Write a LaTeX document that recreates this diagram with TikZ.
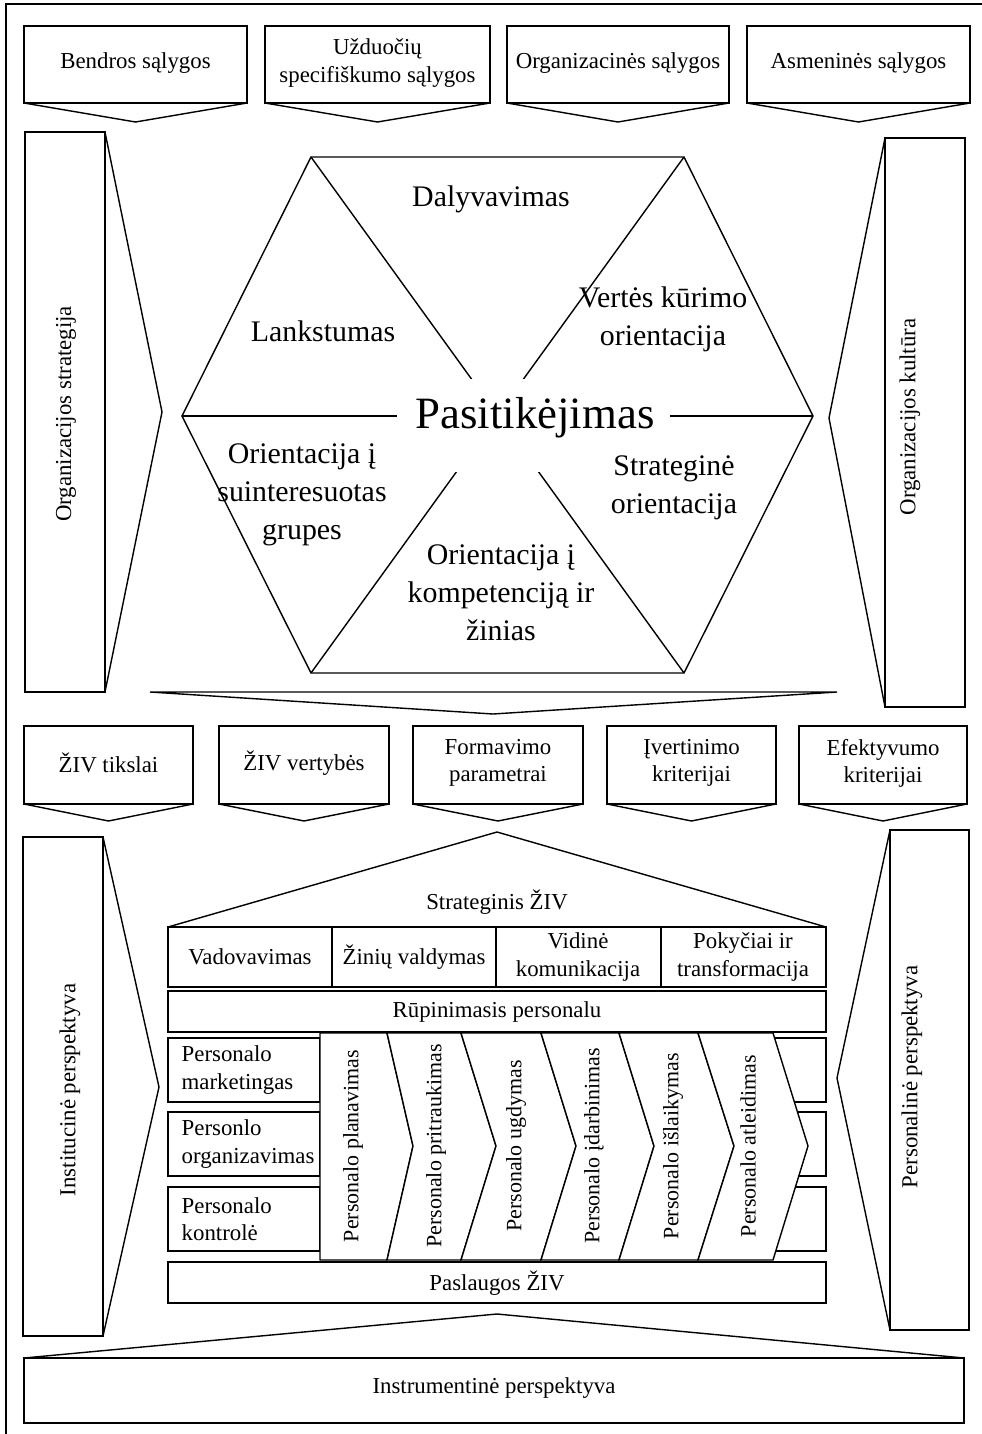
\documentclass[tikz,border=0pt]{standalone}
\usepackage{fontspec}
\setmainfont{Liberation Serif}
\usepackage{tikz}

\begin{document}
\begin{tikzpicture}[x=0.02cm,y=-0.02cm,line width=0.8pt,
  lbl/.style={align=center,inner sep=0pt,font=\fontsize{13}{15.5}\selectfont},
  hexlbl/.style={align=center,inner sep=0pt,font=\fontsize{17}{21.5}\selectfont},
  side/.style={lbl,rotate=90},
  chevlbl/.style={inner sep=0pt,rotate=90,font=\fontsize{12.5}{15}\selectfont}]
  \useasboundingbox (0,0) rectangle (982,1434);
  \draw (982,4) -- (6,4) -- (6,1434);

  \foreach \xa/\xb/\name/\txt in {24/247/bendros/{Bendros sąlygos},
      265/490/uzduociu/{Užduočių\\specifiškumo sąlygos},
      507/729/organizac/{Organizacinės sąlygos},
      747/970/asmenines/{Asmeninės sąlygos}}{
    \draw (\xa,26) rectangle (\xb,103);
    \draw (\xa,103) -- ({(\xa+\xb)/2},122) -- (\xb,103);
    \node[lbl] (\name) at ({(\xa+\xb)/2},63) {\txt};
  }

  \draw (25,132) rectangle (105,692);
  \draw (105,132) -- (162,412) -- (105,692);
  \node[side] (strategija) at (66,414) {Organizacijos strategija};
  \draw (885,138) rectangle (965,707);
  \draw (885,138) -- (829,418) -- (885,707);
  \node[side] (kultura) at (910,417) {Organizacijos kultūra};

  \coordinate (hexA) at (311,157);
  \coordinate (hexB) at (684,157);
  \coordinate (hexC) at (813,416);
  \coordinate (hexD) at (684,673);
  \coordinate (hexE) at (311,673);
  \coordinate (hexF) at (182,416);
  \draw (hexA) -- (hexB) -- (hexC) -- (hexD) -- (hexE) -- (hexF) -- cycle;
  \draw (hexA) -- (hexD);
  \draw (hexB) -- (hexE);
  \draw (hexF) -- (hexC);
  \fill[white] (397,379) rectangle (670,472);
  \node[inner sep=0pt,font=\fontsize{25.5}{30}\selectfont] (pasitik) at (535,418) {Pasitikėjimas};
  \node[hexlbl] (dalyv) at (491,199) {Dalyvavimas};
  \node[hexlbl] (lankst) at (323,331) {Lankstumas};
  \node[hexlbl] (vertes) at (663,319) {Vertės kūrimo\\orientacija};
  \node[hexlbl] (strateg) at (674,488) {Strateginė\\orientacija};
  \node[hexlbl] (suinter) at (302,495) {Orientacija į\\suinteresuotas\\grupes};
  \node[hexlbl] (kompet) at (501,593) {Orientacija į\\kompetenciją ir\\žinias};

  \draw (150,692) -- (837,692) -- (493,714) -- cycle;

  \foreach \xa/\xb/\name/\txt in {24/193/tikslai/{ŽIV tikslai},
      219/389/vertybes/{ŽIV vertybės},
      413/583/formav/{Formavimo\\parametrai},
      607/776/ivertin/{Įvertinimo\\kriterijai},
      799/967/efektyv/{Efektyvumo\\kriterijai}}{
    \draw (\xa,726) rectangle (\xb,804);
    \draw (\xa,804) -- ({(\xa+\xb)/2},821) -- (\xb,804);
    \node[lbl] (\name) at ({(\xa+\xb)/2},763) {\txt};
  }

  \draw (23,837) rectangle (103,1336);
  \draw (103,837) -- (159,1087) -- (103,1336);
  \node[side] (instituc) at (70,1090) {Institucinė perspektyva};
  \draw (890,830) rectangle (969,1330);
  \draw (890,830) -- (837,1078) -- (890,1330);
  \node[side] (personal) at (912,1077) {Personalinė perspektyva};

  \draw (168,927) -- (497,832) -- (826,927);
  \node[lbl] (strziv) at (497,902) {Strateginis ŽIV};
  \draw (168,927) rectangle (826,987);
  \foreach \x in {332,496,661}
    \draw (\x,927) -- (\x,987);
  \node[lbl] (vadov) at (250,957) {Vadovavimas};
  \node[lbl] (zinvald) at (414,957) {Žinių valdymas};
  \node[lbl] (vidkom) at (578,957) {Vidinė\\komunikacija};
  \node[lbl] (pokyc) at (743,957) {Pokyčiai ir\\transformacija};
  \draw (168,991) rectangle (826,1032);
  \node[lbl] (rupin) at (497,1012) {Rūpinimasis personalu};

  \foreach \ya/\yb/\name/\txt in {1038/1102/market/{Personalo\\marketingas},
      1112/1176/organiz/{Personlo\\organizavimas},
      1187/1251/kontrol/{Personalo\\kontrolė}}{
    \draw (168,\ya) rectangle (320,\yb);
    \draw (760,\ya) rectangle (826,\yb);
    \node[lbl,align=left,anchor=west] (\name) at (181,{(\ya+\yb)/2}) {\txt};
  }

  \foreach \ta/\pa/\tb/\pb/\name/\txt/\tx in {320/320/387/413/planav/planavimas/353,
      387/413/461/496/pritrauk/pritraukimas/436,
      461/496/541/576/ugdym/ugdymas/516,
      541/576/619/654/idarbin/įdarbinimas/594,
      619/654/698/734/islaik/išlaikymas/673,
      698/734/773/808/atleid/atleidimas/748}{
    \draw[fill=white] (\ta,1033) -- (\tb,1033) -- (\pb,1146) -- (\tb,1260)
      -- (\ta,1260) -- (\pa,1146) -- cycle;
    \node[chevlbl] (\name) at (\tx,1146) {Personalo \txt};
  }

  \draw (168,1262) rectangle (826,1303);
  \node[lbl] (paslaug) at (497,1283) {Paslaugos ŽIV};

  \draw (24,1358) -- (497,1314) -- (964,1358);
  \draw (24,1358) rectangle (964,1423);
  \node[lbl] (instrum) at (494,1388) {Instrumentinė perspektyva};
\end{tikzpicture}
\end{document}
